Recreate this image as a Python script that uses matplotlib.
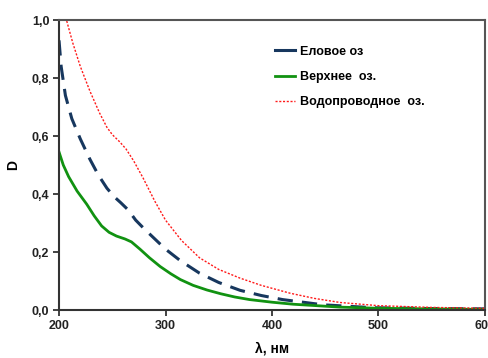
import matplotlib.pyplot as plt
from matplotlib.ticker import FuncFormatter

plt.rcParams["font.family"] = ["Liberation Sans", "DejaVu Sans"]
plt.rcParams["font.weight"] = "bold"

# Еловое оз (dashed, dark blue)
wl_blue = [200, 202, 206, 212, 220, 229, 237, 245, 252, 258, 265, 272, 280, 290, 300, 314, 332, 350, 370, 390, 410, 448, 495, 550, 600]
d_blue = [0.93, 0.84, 0.74, 0.66, 0.59, 0.52, 0.465, 0.42, 0.39, 0.37, 0.345, 0.31, 0.28, 0.245, 0.21, 0.17, 0.127, 0.095, 0.068, 0.05, 0.036, 0.018, 0.008, 0.005, 0.004]

# Верхнее оз. (solid, green)
wl_green = [200, 204, 209, 217, 226, 233, 240, 247, 254, 262, 268, 276, 285, 295, 305, 314, 326, 339, 352, 365, 379, 400, 420, 464, 500, 550, 600]
d_green = [0.545, 0.50, 0.46, 0.41, 0.365, 0.325, 0.29, 0.268, 0.255, 0.245, 0.235, 0.21, 0.18, 0.15, 0.125, 0.105, 0.085, 0.069, 0.056, 0.045, 0.036, 0.027, 0.02, 0.01, 0.006, 0.004, 0.002]

# Водопроводное оз. (dotted, red)
wl_red = [200, 204, 207, 213, 220, 229, 238, 245, 250, 257, 263, 270, 279, 290, 300, 315, 332, 350, 370, 390, 417, 440, 464, 500, 550, 600]
d_red = [1.12, 1.05, 1.0, 0.92, 0.84, 0.755, 0.68, 0.63, 0.605, 0.58, 0.555, 0.515, 0.455, 0.375, 0.31, 0.24, 0.18, 0.14, 0.11, 0.085, 0.058, 0.04, 0.026, 0.015, 0.009, 0.006]

labels = ["Еловое оз", "Верхнее  оз.", "Водопроводное  оз."]

fig = plt.figure(figsize=(4.89, 3.58), dpi=100)
ax = fig.add_axes([0.1207, 0.134, 0.871, 0.81])

ax.plot(wl_blue, d_blue, color="#17375e", lw=2.2, dashes=(5, 3), label=labels[0])
ax.plot(wl_green, d_green, color="#119211", lw=2.0, label=labels[1])
ax.plot(wl_red, d_red, color="#ff1a1a", lw=1.0, dashes=(1.5, 1.2), label=labels[2])

ax.set_xlim(200, 600)
ax.set_ylim(0, 1.0)
ax.set_xticks([200, 300, 400, 500, 600])
ax.set_yticks([0, 0.2, 0.4, 0.6, 0.8, 1.0])
ax.yaxis.set_major_formatter(FuncFormatter(lambda v, p: f"{v:.1f}".replace(".", ",")))
ax.tick_params(direction="out", length=4, width=1.2, labelsize=9, colors="#222222", pad=3)
for lab in ax.get_xticklabels() + ax.get_yticklabels():
    lab.set_fontweight("bold")

for side in ["left", "bottom"]:
    ax.spines[side].set_color("#333333")
    ax.spines[side].set_linewidth(1.5)
for side in ["top", "right"]:
    ax.spines[side].set_color("#555555")
    ax.spines[side].set_linewidth(1.5)

ax.set_ylabel("D", fontsize=10, fontweight="bold", labelpad=8)
ax.set_xlabel("λ, нм", fontsize=10, fontweight="bold", labelpad=7)

leg = ax.legend(loc="upper left", bbox_to_anchor=(0.48, 0.95), frameon=False,
                fontsize=9, handlelength=1.6, handletextpad=0.4, labelspacing=1.05)
leg.get_lines()[0].set_dashes((None, None))
leg.get_lines()[0].set_linestyle("-")

fig.savefig("out.png", dpi=100)
